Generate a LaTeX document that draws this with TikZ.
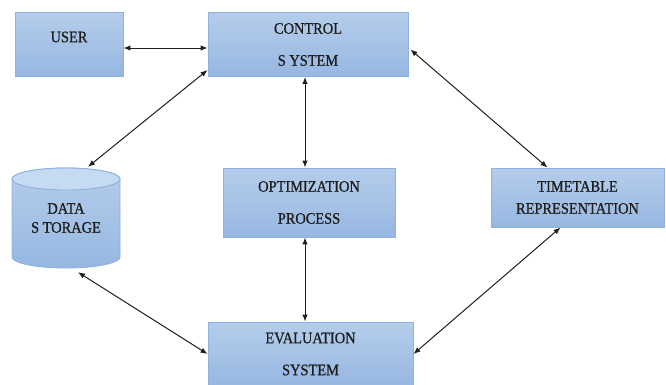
\documentclass[tikz,border=0pt]{standalone}
\usepackage{fontspec}
\setmainfont{Liberation Serif}
\newfontfamily\diagfont[FakeStretch=0.9,FakeBold=0.8]{Liberation Serif}
\usetikzlibrary{arrows.meta}
\definecolor{boxtop}{HTML}{B5CDEB}
\definecolor{boxbot}{HTML}{97B7E1}
\definecolor{boxline}{HTML}{8DB2DE}
\definecolor{captop}{HTML}{C6DAF1}
\definecolor{ink}{HTML}{1E1E1E}
\tikzset{
  lbl/.style={align=center, text=ink, font=\diagfont\fontsize{16}{19}\selectfont, inner sep=0pt},
  box/.style={lbl, rectangle, draw=boxline, line width=0.9pt, top color=boxtop, bottom color=boxbot},
  link/.style={draw=ink, line width=1pt, {Latex[length=7pt,width=5.5pt]}-{Latex[length=7pt,width=5.5pt]}}
}
\begin{document}
\begin{tikzpicture}[x=1pt,y=-1pt]
\useasboundingbox (0,0) rectangle (666,384);
\clip (0,0) rectangle (666,384);
% boxes
\node[box, minimum width=108, minimum height=64] (user) at (69,44) {\raisebox{7pt}[\height][\depth]{USER}};
\node[box, minimum width=200, minimum height=64] (ctrl) at (308,44.5) {CONTROL\\[13pt]S YSTEM};
\node[box, minimum width=172, minimum height=69] (opt) at (309,202.5) {OPTIMIZATION\\[13pt]PROCESS};
\node[box, minimum width=173, minimum height=59] (tt) at (577.5,197.5) {TIMETABLE\\[3pt]REPRESENTATION};
\node[box, minimum width=205, minimum height=64] (ev) at (310.5,354) {EVALUATION\\[13pt]SYSTEM};
% cylinder
\path[draw=boxline, line width=0.9pt, top color=boxtop, bottom color=boxbot]
  (12,179) -- (12,257) arc[start angle=180, end angle=0, x radius=54, y radius=11] -- (120,179)
  arc[start angle=360, end angle=180, x radius=54, y radius=11] -- cycle;
\path[draw=boxline, line width=0.9pt, fill=captop] (66,179) ellipse[x radius=54, y radius=11];
\node[lbl, minimum width=108, minimum height=100] (data) at (66,218) {DATA\\S TORAGE};
% connectors
\draw[link] ([yshift=-4pt]user.east) -- ([yshift=-4pt]user.east -| ctrl.west);
\draw[link] ([xshift=22pt,yshift=1pt]data.north) -- ([yshift=-25.5pt]ctrl.west);
\draw[link] ([xshift=-3pt]ctrl.south) -- ([xshift=-3pt]ctrl.south |- opt.north);
\draw[link] ([xshift=2pt,yshift=-5pt]ctrl.east) -- ([xshift=-30pt]tt.north);
\draw[link] ([xshift=-4pt]opt.south) -- ([xshift=-4pt]opt.south |- ev.north);
\draw[link] ([xshift=12pt,yshift=-4pt]data.south) -- (ev.west);
\draw[link] ([xshift=-17pt]tt.south) -- (ev.east);
\end{tikzpicture}
\end{document}
